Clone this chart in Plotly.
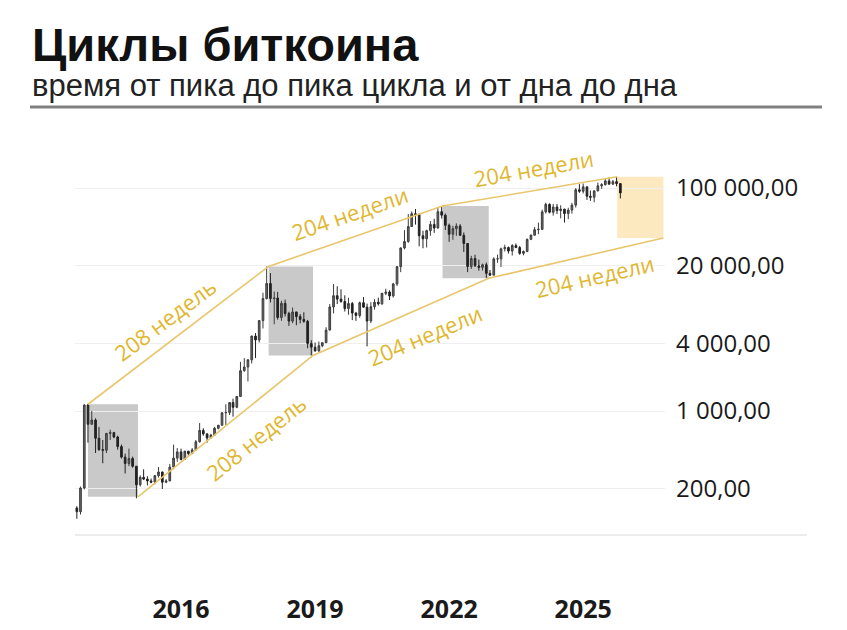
import numpy as np
import pandas as pd
import plotly.graph_objects as go

# monthly BTC/USD candles, Sep 2013 .. Nov 2025
opens = [135, 125, 204, 1130, 760, 830, 570, 450, 445, 630, 640, 585, 480, 386, 338, 375,
         320, 218, 254, 245, 236, 230, 263, 284, 230, 236, 314, 378,
         430, 368, 436, 416, 448, 530, 670, 624, 574, 608, 700, 745,
         963, 970, 1190, 1080, 1350, 2300, 2480, 2875, 4700, 4340, 6470, 10200,
         13900, 10200, 10300, 6900, 9240, 7500, 6400, 7730, 7030, 6630, 6370, 4040,
         3740, 3460, 3850, 4100, 5320, 8570, 10820, 10080, 9600, 8290, 9200, 7550,
         7190, 9350, 8540, 6410, 8620, 9450, 9140, 11350, 11660, 10780, 13800, 19700,
         28990, 33110, 45140, 58800, 57750, 37330, 35040, 41460, 47100, 43790, 61300, 57000,
         46300, 38480, 43190, 45540, 37640, 31790, 19780, 23300, 20050, 19420, 20490, 17170,
         16540, 23140, 23150, 28480, 29250, 27220, 30480, 29230, 25940, 26970, 34650, 37720,
         42280, 42580, 61130, 71330, 60640, 67490, 62680, 64630, 58970, 63330, 70220, 96450,
         93430, 102400, 84350, 82550, 94200, 104600, 107100, 115800, 108300, 114000, 109500]
highs = [140, 210, 1150, 1160, 1000, 860, 720, 550, 630, 680, 650, 600, 500, 415, 460, 390,
         320, 265, 300, 260, 248, 267, 315, 285, 245, 335, 500, 465,
         460, 440, 440, 465, 550, 780, 700, 625, 625, 720, 750, 975,
         1150, 1200, 1290, 1350, 2760, 2980, 2920, 4740, 5000, 6470, 11500, 19800,
         17250, 11800, 11700, 9750, 9990, 7760, 8480, 7760, 7400, 7680, 6560, 4310,
         4110, 4200, 4100, 5640, 9100, 13800, 13130, 12330, 10900, 10370, 9500, 7750,
         9580, 10500, 9190, 9470, 10070, 10400, 11450, 12480, 12100, 14100, 19860, 29300,
         41900, 58350, 61680, 64860, 59520, 41330, 42230, 50480, 52920, 66930, 69000, 59040,
         47990, 45800, 48190, 47440, 39900, 31960, 24650, 25200, 22800, 21000, 21450, 18400,
         23950, 25250, 29200, 31000, 29830, 31390, 31800, 30240, 27480, 35200, 38400, 44700,
         48970, 63900, 73800, 72800, 71950, 71950, 70000, 65100, 66500, 73600, 99600, 108300,
         109600, 102500, 95000, 95750, 111900, 110500, 123200, 124500, 117900, 126200, 110600]
lows = [108, 118, 198, 520, 760, 420, 440, 340, 420, 550, 570, 450, 375, 275, 320, 310,
        165, 210, 240, 215, 225, 220, 253, 200, 225, 235, 300, 350,
        360, 365, 395, 410, 440, 520, 600, 520, 570, 605, 685, 740,
        750, 920, 890, 1060, 1340, 2250, 1840, 2670, 2980, 4110, 5500, 10000,
        9400, 6000, 6600, 6450, 7050, 5800, 6120, 5880, 6110, 6180, 3650, 3150,
        3400, 3390, 3730, 4080, 5300, 7500, 9100, 9350, 7800, 7300, 6530, 6430,
        6850, 8450, 3800, 6150, 8110, 8830, 8980, 10950, 9880, 10400, 13200, 17600,
        28130, 32300, 44950, 47000, 30000, 28800, 29280, 37330, 39600, 43290, 53250, 42000,
        32950, 34320, 37260, 37700, 26700, 17600, 18780, 19600, 18150, 18200, 15600, 16260,
        16500, 21350, 19550, 26940, 25810, 24800, 28860, 25170, 24900, 26560, 34100, 37630,
        38550, 41900, 59100, 59200, 56550, 58450, 53500, 49000, 52550, 58900, 66800, 90500,
        89200, 78200, 76600, 74500, 93400, 98200, 105300, 107300, 107300, 103500, 80600]
closes = [125, 204, 1130, 760, 830, 570, 450, 445, 630, 640, 585, 480, 386, 338, 375, 320,
          218, 254, 245, 236, 230, 263, 284, 230, 236, 314, 378, 430,
          368, 436, 416, 448, 530, 670, 624, 574, 608, 700, 745, 963,
          970, 1190, 1080, 1350, 2300, 2480, 2875, 4700, 4340, 6470, 10200, 13900,
          10200, 10300, 6900, 9240, 7500, 6400, 7730, 7030, 6630, 6370, 4040, 3740,
          3460, 3850, 4100, 5320, 8570, 10820, 10080, 9600, 8290, 9200, 7550, 7190,
          9350, 8540, 6410, 8620, 9450, 9140, 11350, 11660, 10780, 13800, 19700, 28990,
          33110, 45140, 58800, 57750, 37330, 35040, 41460, 47100, 43790, 61300, 57000, 46300,
          38480, 43190, 45540, 37640, 31790, 19780, 23300, 20050, 19420, 20490, 17170, 16540,
          23140, 23150, 28480, 29250, 27220, 30480, 29230, 25940, 26970, 34650, 37720, 42280,
          42580, 61130, 71330, 60640, 67490, 62680, 64630, 58970, 63330, 70220, 96450, 93430,
          102400, 84350, 82550, 94200, 104600, 107100, 115800, 108300, 114000, 109500, 90400]
months = pd.date_range("2013-09-01", periods=len(closes), freq="MS")

# cycle tops and bottoms (last bottom is the projection)
peak_dates = ["2013-12-01", "2017-12-17", "2021-11-08", "2025-10-06"]
peak_prices = [1150, 19800, 69000, 126000]
bottom_dates = ["2015-01-14", "2018-12-15", "2022-11-21", "2026-10-19"]
bottom_prices = [170, 3150, 15500, 35600]
upper_labels = ["208 недель", "204 недели", "204 недели"]
lower_labels = ["208 недель", "204 недели", "204 недели"]

tick_prices = [200, 1000, 4000, 20000, 100000]
tick_price_text = ["200,00", "1 000,00", "4 000,00", "20 000,00", "100 000,00"]
tick_years = ["2016-01-01", "2019-01-01", "2022-01-01", "2025-01-01"]
tick_year_text = ["2016", "2019", "2022", "2025"]

GOLD_LINE = "#e9c66c"
GOLD_TEXT = "#e0b730"

fig = go.Figure()

# shaded zones: peak -> bottom, behind the candles
for i in range(len(peak_dates)):
    last = i == len(peak_dates) - 1
    fig.add_shape(type="rect", layer="below",
                  x0=peak_dates[i], x1=bottom_dates[i],
                  y0=bottom_prices[i], y1=peak_prices[i],
                  fillcolor="#fce9c0" if last else "#c9c9c9", line=dict(width=0))

fig.add_trace(go.Candlestick(
    x=months, open=opens, high=highs, low=lows, close=closes,
    increasing=dict(line=dict(color="#3c3c3c", width=1), fillcolor="#6a6a6a"),
    decreasing=dict(line=dict(color="#222222", width=1), fillcolor="#222222"),
    showlegend=False))

# channel lines through tops and through bottoms
fig.add_trace(go.Scatter(x=peak_dates, y=peak_prices, mode="lines",
                         line=dict(color=GOLD_LINE, width=1.6),
                         hoverinfo="skip", showlegend=False))
fig.add_trace(go.Scatter(x=bottom_dates, y=bottom_prices, mode="lines",
                         line=dict(color=GOLD_LINE, width=1.6),
                         hoverinfo="skip", showlegend=False))


def mid(d0, d1, p0, p1):
    t0, t1 = pd.Timestamp(d0), pd.Timestamp(d1)
    return t0 + (t1 - t0) / 2, (np.log10(p0) + np.log10(p1)) / 2


upper_style = [(-37, -13, 16), (-19, -6, 23), (-10, 4, 23)]
lower_style = [(-39, 30, -12), (-23, 24, -18), (-13, 18, -18)]
for i in range(3):
    xm, ym = mid(peak_dates[i], peak_dates[i + 1], peak_prices[i], peak_prices[i + 1])
    ang, dx, dy = upper_style[i]
    fig.add_annotation(x=xm, y=ym, text=upper_labels[i], showarrow=False,
                       textangle=ang, xshift=dx, yshift=dy,
                       font=dict(family="Open Sans", size=22, color=GOLD_TEXT))
    xm, ym = mid(bottom_dates[i], bottom_dates[i + 1], bottom_prices[i], bottom_prices[i + 1])
    ang, dx, dy = lower_style[i]
    fig.add_annotation(x=xm, y=ym, text=lower_labels[i], showarrow=False,
                       textangle=ang, xshift=dx, yshift=dy,
                       font=dict(family="Open Sans", size=22, color=GOLD_TEXT))

# heading
fig.add_annotation(xref="paper", yref="paper", x=-0.0763, y=1.243, xanchor="left",
                   yanchor="middle", text="<b>Циклы биткоина</b>", showarrow=False,
                   font=dict(family="Liberation Sans", size=47, color="#111111"))
fig.add_annotation(xref="paper", yref="paper", x=-0.0763, y=1.139, xanchor="left",
                   yanchor="middle", text="время от пика до пика цикла и от дна до дна",
                   showarrow=False,
                   font=dict(family="Liberation Sans", size=31, color="#222222"))
fig.add_shape(type="line", xref="paper", yref="paper", x0=-0.0763, x1=1.2661,
              y0=1.0835, y1=1.0835, line=dict(color="#808080", width=3))
fig.add_shape(type="line", xref="paper", yref="paper", x0=0, x1=1.2407,
              y0=0, y1=0, line=dict(color="#e6e6e6", width=1.5))

fig.update_layout(
    width=839, height=622,
    margin=dict(l=67, r=182, t=132, b=95),
    paper_bgcolor="white", plot_bgcolor="white",
    showlegend=False,
    xaxis=dict(type="date", range=["2013-08-17", "2026-11-01"],
               rangeslider=dict(visible=False), automargin=False,
               tickvals=tick_years, ticktext=tick_year_text,
               tickfont=dict(family="Open Sans", size=25, color="#1a1a1a", weight="bold"),
               ticklabelstandoff=57, showgrid=False, zeroline=False, showline=False,
               ticks=""),
    yaxis=dict(type="log", range=[1.888, 5.4305], side="right", automargin=False,
               tickvals=tick_prices, ticktext=tick_price_text,
               tickfont=dict(family="Open Sans", size=24, color="#1a1a1a"),
               ticklabelstandoff=10, showgrid=True, gridcolor="#efefef",
               zeroline=False, showline=False, ticks=""),
)

fig.write_html("out.html")
